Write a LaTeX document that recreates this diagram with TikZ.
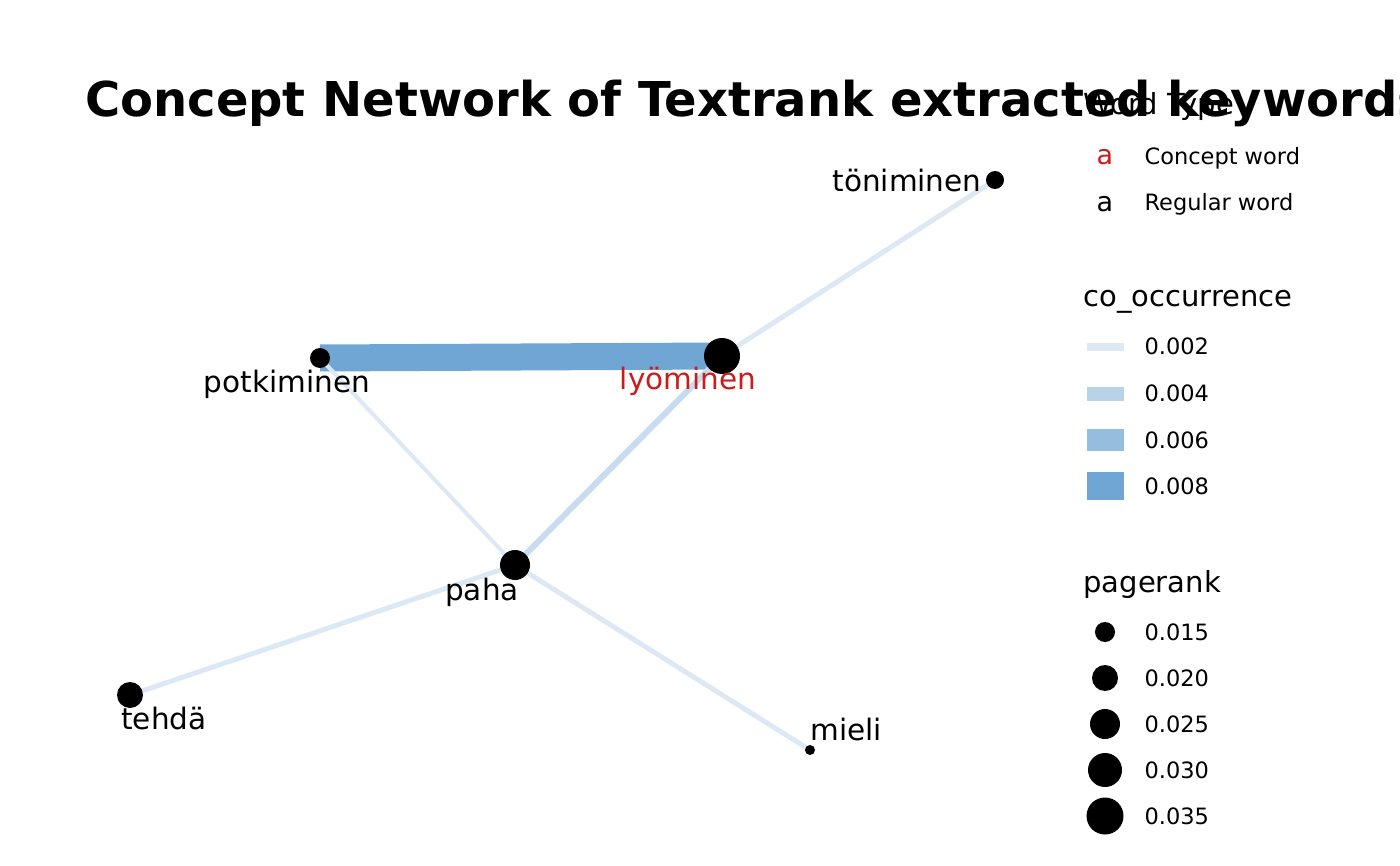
\documentclass[tikz,border=0pt]{standalone}
\usepackage{fontspec}
\setmainfont{DejaVu Sans}
\usetikzlibrary{positioning,backgrounds}

\definecolor{coA}{HTML}{DCE9F5}
\definecolor{coB}{HTML}{B7D3EA}
\definecolor{coC}{HTML}{94BDDE}
\definecolor{coD}{HTML}{6FA6D3}
\definecolor{coAB}{HTML}{C8DCEF}
\definecolor{conceptred}{HTML}{CD1A1A}

\tikzset{
  dot/.style={circle, fill=black, inner sep=0pt, minimum size=#1},
  wordlabel/.style={anchor=base, font=\fontsize{29.5}{35}\selectfont},
  link/.style={line cap=butt},
  legtitle/.style={anchor=base west, font=\fontsize{29}{34}\selectfont},
  legtext/.style={anchor=base west, font=\fontsize{22.5}{27}\selectfont},
  legkey/.style={anchor=base, font=\fontsize{27}{32}\selectfont}
}

\begin{document}
\begin{tikzpicture}[x=1pt,y=-1pt]
\useasboundingbox (0,0) rectangle (1400,866);
\clip (0,0) rectangle (1400,866);

% ================= TITLE =================
\node[anchor=base west, inner xsep=0pt, font=\fontsize{48}{56}\selectfont\bfseries] (title) at (85,117)
  {Concept Network of Textrank extracted keywords};

% ================= NETWORK =================
% Words
\node[dot=18pt] (tonim) at (995,180) {};
\node[dot=36pt] (lyom) at (722,356) {};
\node[dot=20pt] (potk) at (320,358) {};
\node[dot=30pt] (paha) at (515,565) {};
\node[dot=26pt] (tehda) at (130,695) {};
\node[dot=10pt] (mieli) at (810,750) {};

% Co-occurrence links
\begin{scope}[on background layer]
\draw[link, line width=27pt, coD] (potk.center) -- (lyom.center);
\draw[link, line width=5pt, coA] (lyom.center) -- (tonim.center);
\draw[link, line width=6pt, coAB] (lyom.center) -- (paha.center);
\draw[link, line width=4pt, coA] (potk.center) -- (paha.center);
\draw[link, line width=5pt, coA] (paha.center) -- (tehda.center);
\draw[link, line width=5pt, coA] (paha.center) -- (mieli.center);
\end{scope}

% Labels
\node[wordlabel, anchor=base east] (tonimlab) at (985,192) {töniminen};
\node[wordlabel, text=conceptred] (lyomlab) at (688,390) {lyöminen};
\node[wordlabel] (potklab) at (287,392) {potkiminen};
\node[wordlabel] (pahalab) at (482,600) {paha};
\node[wordlabel] (tehdalab) at (164,729) {tehdä};
\node[wordlabel, anchor=base west] (mielilab) at (807,740) {mieli};

% ================= LEGEND =================
% Word type
\node[legtitle] (wtype) at (1080,115) {Word Type};
\node[legkey, text=conceptred] (keyconcept) at (1105,165) {a};
\node[legtext] (txtconcept) at (1141,165) {Concept word};
\node[legkey] (keyregular) at (1105,212) {a};
\node[legtext] (txtregular) at (1141,211) {Regular word};

% co_occurrence
\node[legtitle] (cotitle) at (1080,307) {co\_occurrence};
\foreach \val/\h/\col/\yc [count=\i] in {0.002/8/coA/347, 0.004/14/coB/394, 0.006/22/coC/440, 0.008/28/coD/486}
{
  \fill[\col] (1087,\yc-\h/2) rectangle (1124,\yc+\h/2);
  \node[legtext] (co\i) at (1141,\yc+8) {\val};
}

% pagerank
\node[legtitle] (prtitle) at (1080,592) {pagerank};
\foreach \val/\r/\yc [count=\i] in {0.015/10/632, 0.020/13/678, 0.025/15/724, 0.030/17/770, 0.035/18.5/816}
{
  \fill (1105,\yc) circle[radius=\r pt];
  \node[legtext] (pr\i) at (1141,\yc+8) {\val};
}

\end{tikzpicture}
\end{document}
